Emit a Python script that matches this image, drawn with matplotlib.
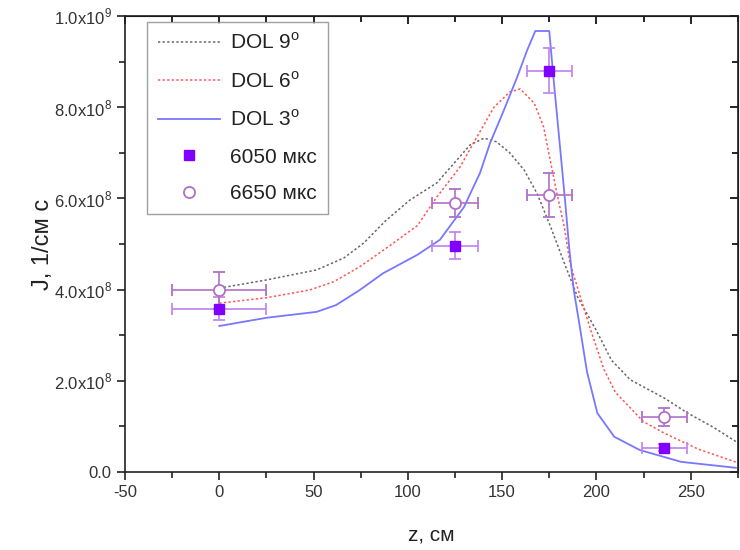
import numpy as np
import matplotlib
matplotlib.use("Agg")
import matplotlib.pyplot as plt
from matplotlib.lines import Line2D
from matplotlib.ticker import MultipleLocator, FuncFormatter, NullFormatter

plt.rcParams['font.family'] = ['Liberation Sans', 'DejaVu Sans']
plt.rcParams['axes.unicode_minus'] = False

# =========================================================
# DATA
# =========================================================

# DOL 9 degrees (grey dotted)
z_dol9 = [0, 25, 51.6, 66, 76.6, 88, 101, 115.4, 126, 133, 140.4, 147, 154, 161.7, 168.6,
          175.5, 183, 190, 200, 208, 218, 236, 248, 262, 275]
j_dol9 = [4.03e8, 4.21e8, 4.43e8, 4.69e8, 5.02e8, 5.5e8, 5.96e8, 6.34e8, 6.84e8, 7.17e8, 7.32e8,
          7.24e8, 7.0e8, 6.62e8, 6.1e8, 5.4e8, 4.58e8, 3.84e8, 3.1e8, 2.45e8, 2.02e8, 1.62e8,
          1.3e8, 0.98e8, 0.64e8]

# DOL 6 degrees (red dotted)
z_dol6 = [0, 25, 48, 60.6, 74.5, 90, 105, 115.4, 127.7, 136.7, 145.7, 154, 159.6, 167, 172,
          175.5, 179, 183, 186, 191.5, 197, 204, 210, 225, 236, 254, 275]
j_dol6 = [3.7e8, 3.82e8, 3.99e8, 4.17e8, 4.5e8, 4.95e8, 5.4e8, 6.03e8, 6.69e8, 7.35e8, 8.0e8,
          8.33e8, 8.4e8, 8.09e8, 7.57e8, 6.84e8, 6.12e8, 5.37e8, 4.58e8, 3.84e8, 3.11e8, 2.25e8,
          1.75e8, 1.1e8, 0.85e8, 0.5e8, 0.2e8]

# DOL 3 degrees (blue solid)
z_dol3 = [0, 25, 51.6, 62, 74.5, 87, 105, 117, 129.8, 138.3, 143.6, 151, 158, 163.3, 167.6, 175,
          177.7, 181, 183.5, 185.6, 188, 191.5, 195, 200.5, 209.5, 223, 245, 274]
j_dol3 = [3.2e8, 3.38e8, 3.51e8, 3.66e8, 3.99e8, 4.36e8, 4.76e8, 5.09e8, 5.81e8, 6.56e8, 7.21e8,
          7.94e8, 8.66e8, 9.25e8, 9.67e8, 9.67e8, 8.44e8, 7.0e8, 5.9e8, 4.9e8, 3.99e8, 3.11e8,
          2.2e8, 1.29e8, 0.77e8, 0.48e8, 0.22e8, 0.09e8]

# measurements 6050 mks
z_6050 = [0, 125, 175, 236]
j_6050 = [3.58e8, 4.96e8, 8.8e8, 0.53e8]
zerr_6050 = [25, 12, 12, 12]
jerr_6050 = [0.25e8, 0.3e8, 0.49e8, 0.08e8]

# measurements 6650 mks
z_6650 = [0, 125, 175, 236]
j_6650 = [3.98e8, 5.9e8, 6.07e8, 1.2e8]
zerr_6650 = [25, 12, 12, 12]
jerr_6650 = [0.4e8, 0.3e8, 0.48e8, 0.2e8]

# =========================================================
# PLOT
# =========================================================

fig = plt.figure(figsize=(7.4, 5.5), dpi=100)
ax = fig.add_axes([0.169, 0.142, 0.828, 0.829])

c9, c6, c3 = '#666666', '#ff5555', '#7777ff'
sq_col, circ_col, err_col = '#8000ff', '#b070c8', '#c080ee'

ax.plot(z_dol9, j_dol9, color=c9, linestyle=(0, (1.5, 1.5)), linewidth=1.1)
ax.plot(z_dol6, j_dol6, color=c6, linestyle=(0, (1.5, 1.5)), linewidth=1.1)
ax.plot(z_dol3, j_dol3, color=c3, linestyle='-', linewidth=1.3)

ax.errorbar(z_6050, j_6050, xerr=zerr_6050, yerr=jerr_6050, fmt='s', color=sq_col,
            markersize=7, ecolor=err_col, elinewidth=1.2, capsize=4, capthick=1.2, zorder=3)
ax.errorbar(z_6650, j_6650, xerr=zerr_6650, yerr=jerr_6650, fmt='o', markerfacecolor='white',
            markeredgecolor=circ_col, markeredgewidth=1.3, markersize=8, ecolor=circ_col,
            elinewidth=1.2, capsize=4, capthick=1.2, zorder=3)

ax.set_xlim(-50, 275)
ax.set_ylim(0, 1.0e9)

ax.xaxis.set_major_locator(MultipleLocator(50))
ax.xaxis.set_minor_locator(MultipleLocator(25))
ax.yaxis.set_major_locator(MultipleLocator(2e8))
ax.yaxis.set_minor_locator(MultipleLocator(1e8))


def y_fmt(v, pos):
    if abs(v) < 1:
        return '0.0'
    if v < 0:
        return ''
    exp = int(np.floor(np.log10(v)))
    mant = v / 10 ** exp
    return r'%.1fx10$^{\mathregular{%d}}$' % (mant, exp)


ax.yaxis.set_major_formatter(FuncFormatter(y_fmt))

ax.tick_params(axis='both', which='major', labelsize=12, direction='out', length=6, width=1.2,
               colors='#222222', labelcolor='#333333')
ax.tick_params(axis='both', which='minor', direction='out', length=4, width=1.2, colors='#222222')
for s in ax.spines.values():
    s.set_linewidth(1.2)
    s.set_color('#222222')

# inward ticks on top and right spines
top = ax.secondary_xaxis('top')
top.xaxis.set_major_locator(MultipleLocator(50))
top.xaxis.set_minor_locator(MultipleLocator(25))
top.xaxis.set_major_formatter(NullFormatter())
top.tick_params(which='major', direction='in', length=6, width=1.2)
top.tick_params(which='minor', direction='in', length=4, width=1.2)
right = ax.secondary_yaxis('right')
right.yaxis.set_major_locator(MultipleLocator(2e8))
right.yaxis.set_minor_locator(MultipleLocator(1e8))
right.yaxis.set_major_formatter(NullFormatter())
right.tick_params(which='major', direction='in', length=6, width=1.2)
right.tick_params(which='minor', direction='in', length=4, width=1.2)

ax.set_xlabel('z, см', fontsize=15, labelpad=18, color='#222222')
ax.set_ylabel('J, 1/см с', fontsize=17, labelpad=0, color='#222222')

handles = [
    Line2D([], [], color=c9, linestyle=(0, (1.5, 1.5)), linewidth=1.1),
    Line2D([], [], color=c6, linestyle=(0, (1.5, 1.5)), linewidth=1.1),
    Line2D([], [], color=c3, linestyle='-', linewidth=1.3),
    Line2D([], [], color=sq_col, marker='s', linestyle='none', markersize=7),
    Line2D([], [], marker='o', linestyle='none', markersize=8, markerfacecolor='white',
           markeredgecolor=circ_col, markeredgewidth=1.3),
]
labels = [r'DOL 9$^{\mathregular{o}}$', r'DOL 6$^{\mathregular{o}}$', r'DOL 3$^{\mathregular{o}}$',
          '6050 мкс', '6650 мкс']
leg = ax.legend(handles, labels, loc='upper left', bbox_to_anchor=(0.036, 0.987), fontsize=15,
                frameon=True, fancybox=False, edgecolor='#888888', handlelength=3.0,
                handletextpad=0.5, borderpad=0.5, labelspacing=0.85, borderaxespad=0)
leg.get_frame().set_linewidth(1.0)
for t in leg.get_texts():
    t.set_color('#222222')

fig.savefig('out.png', dpi=100)
